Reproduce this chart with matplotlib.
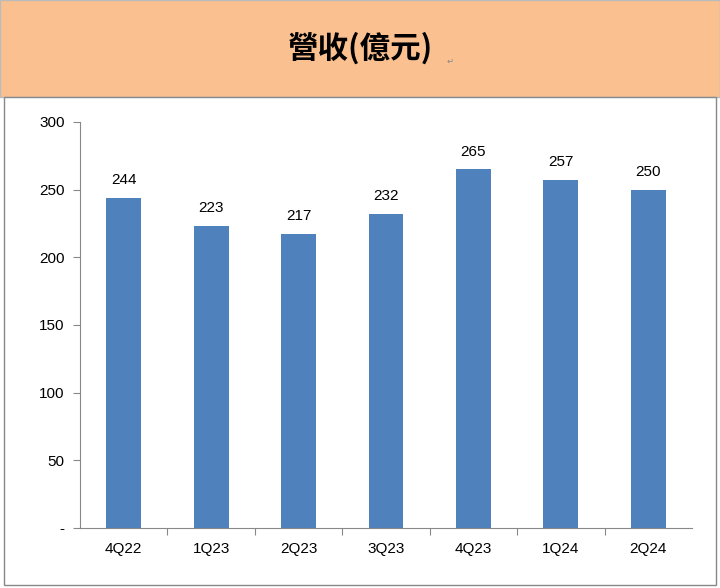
"""Quarterly revenue bar chart (營收, 億元)."""

import matplotlib.pyplot as plt
from matplotlib.patches import Rectangle

QUARTERS = ["4Q22", "1Q23", "2Q23", "3Q23", "4Q23", "1Q24", "2Q24"]
REVENUE = [244, 223, 217, 232, 265, 257, 250]
Y_TICKS = [0, 50, 100, 150, 200, 250, 300]
Y_TICK_LABELS = ["-", "50", "100", "150", "200", "250", "300"]

BAR_COLOR = "#4F81BD"
HEADER_COLOR = "#FAC090"
W, H = 720, 588

fig = plt.figure(figsize=(W / 100, H / 100), dpi=100)

# header band and chart frame (kept behind the axes)
fig.patches.append(Rectangle((0, 1 - 97 / H), 1, 97 / H, transform=fig.transFigure,
                             facecolor=HEADER_COLOR, edgecolor="#BBBBBB", lw=1, zorder=-2))
fig.patches.append(Rectangle((4 / W, 3 / H), 712 / W, 1 - 100 / H, transform=fig.transFigure,
                             facecolor="white", edgecolor="#888888", lw=1, zorder=-2))
fig.text(360 / W, 1 - 48 / H, "營收(億元)", ha="center", va="center", fontsize=22,
         fontweight="bold", family="Noto Sans CJK TC")
fig.text(447 / W, 1 - 64 / H, "↵", fontsize=6, color="#888888", family="DejaVu Sans")

ax = fig.add_axes([80 / W, 1 - 528 / H, 612 / W, 406 / H])
ax.patch.set_alpha(0)
x = range(len(QUARTERS))
ax.bar(x, REVENUE, width=0.4, color=BAR_COLOR)
for xi, v in zip(x, REVENUE):
    ax.text(xi, v + 8, str(v), ha="center", va="bottom", fontsize=11, family="Liberation Sans")

ax.set_xlim(-0.5, len(QUARTERS) - 0.5)
ax.set_ylim(0, 300)
ax.set_yticks(Y_TICKS)
ax.set_yticklabels(Y_TICK_LABELS, family="Liberation Sans", fontsize=11)
ax.set_xticks([i + 0.5 for i in x][:-1])
ax.set_xticklabels([])
ax.set_xticks(list(x), minor=True)
ax.set_xticklabels(QUARTERS, minor=True, family="Liberation Sans", fontsize=11)
ax.tick_params(axis="x", which="minor", length=0, pad=10)
ax.tick_params(axis="x", which="major", length=5, color="#888888")
ax.tick_params(axis="y", length=5, color="#888888", pad=6)
for side in ("top", "right"):
    ax.spines[side].set_visible(False)
for side in ("left", "bottom"):
    ax.spines[side].set_color("#888888")

fig.savefig("out.png", dpi=100)
